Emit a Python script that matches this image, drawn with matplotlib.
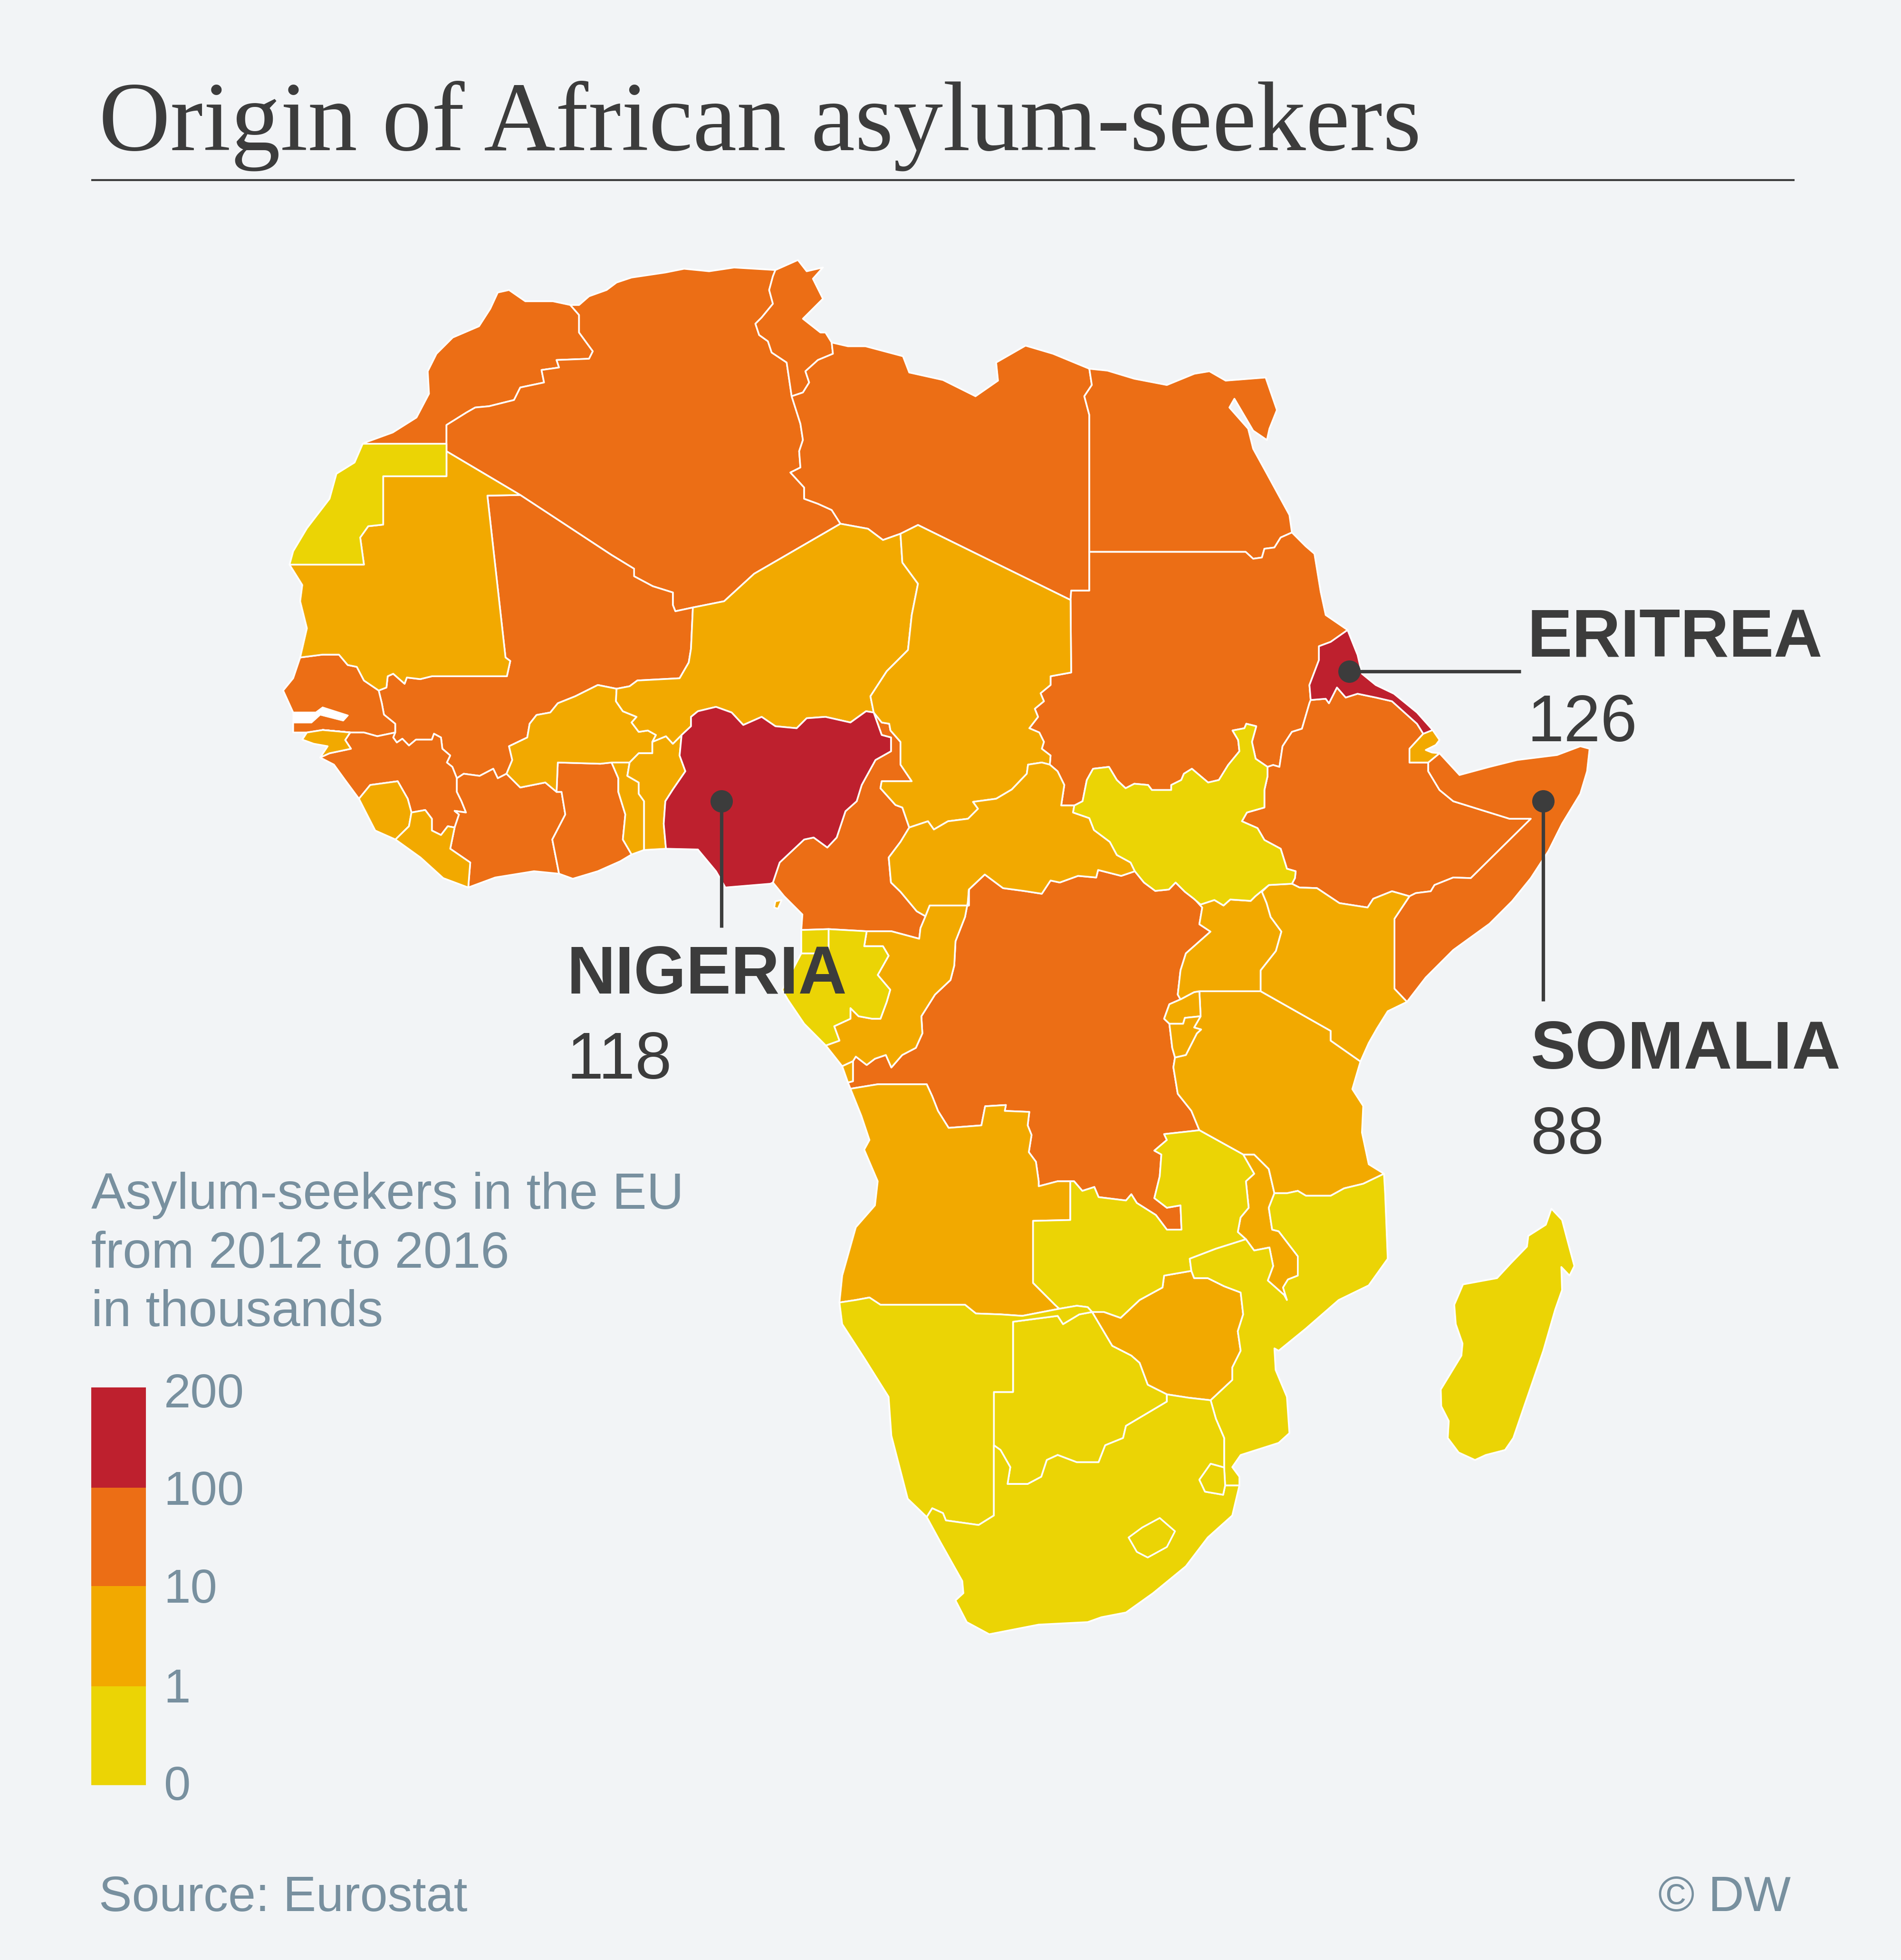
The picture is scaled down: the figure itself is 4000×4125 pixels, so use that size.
"""Origin of African asylum-seekers: choropleth with hand-read country outlines."""
import matplotlib
matplotlib.use("Agg")
import matplotlib.pyplot as plt
from matplotlib.patches import Polygon, Rectangle

BG = "#f2f4f6"
DARK = "#3c3c3c"
GREY = "#78909f"
RED, ORANGE, AMBER, YELLOW = "#be202e", "#ec6e15", "#f2a900", "#ebd405"

# Border chains (x right, y down, on a 1520 x 1568 sheet)
mor_coast = [(290,355),(292,354),(314,346),(333,334),(343,315),(342,297),(349,283),(362,270),(383,261),(392,247),(398,234),(407,232),(420,241),(442,241),(456,244)]
mor_alg = [(456,244),(463,252),(463,266),(474,281),(471,287),(445,288),(447,294),(433,296),(435,306),(416,310),(411,320),(391,325),(380,326),(373,330),(357,340),(357,355)]
mor_wsa = [(357,355),(290,355)]
alg_wsa = [(357,355),(357,361)]
wsa_coast = [(290,355),(283.5,370),(269,379),(263.5,399),(245.4,422.6),(234.4,441),(231.5,451.7)]
mau_wsa = [(231.5,451.7),(291,451.7),(288,430),(294.4,421),(306.4,419.7),(306.4,381),(357,381),(357,361)]
alg_mau = [(357,361),(416,396)]
alg_mli = [(416,396),(489,444),(507,455),(507,461),(522,469),(538,474),(538,484),(540,489),(554,486)]
alg_ner = [(554,486),(579,481),(603,459),(672,419)]
alg_lby = [(672,419),(665,408),(654,403),(643,399),(643,390),(632,378),(640,374),(639,361),(642,352),(640,339),(633,317)]
alg_tun = [(633,317),(629,290),(617,282),(614,273),(607,268),(604,259),(609,254),(618,243),(615,232),(618,221),(620,216)]
alg_coast = [(620,216),(587,214),(567,217),(547,215),(532,218),(505,222),(493,226),(485,232),(471,237),(463,244),(456,244)]
tun_coast = [(620,216),(638,208),(645,217),(658,214),(650,223),(658,239),(642,255),(656,266),(660,266),(665,274)]
tun_lby = [(665,274),(666,283),(654,288),(644,297),(647,306),(642,314),(633,317)]
lby_coast = [(665,274),(678,277),(692,277),(722,285),(727,298),(754,304),(780,317),(798,304.5),(796.5,290),(820,276.5),(842,283),(856.5,289),(871,295)]
lby_egy = [(871,295),(873,308),(867,317),(871,332),(871,441.5)]
lby_sdn = [(871,441.5),(871,472.5),(856.5,472.5),(856,480)]
lby_tcd = [(856,480),(734,420),(720,427)]
lby_ner = [(720,427),(706,432),(694,423),(672,419)]
egy_coast = [(871,295),(885.5,296.5),(907,303),(933,308),(955,299),(967,297),(980,304.5),(1012,302),(1021,328),(1015,343),(1013,352),(1002,344.5),(987,319),(983,326),(998,343),(1002,359),(1013,379),(1031,412),(1033,426)]
egy_sdn = [(1033,426),(1024,430),(1019,438),(1011,439),(1009,446),(1002,447),(996,441.5),(871,441.5)]
sdn_coast = [(1033,426),(1044,437),(1051,443),(1056,473.5),(1060,492),(1077.5,504)]
eri_sdn = [(1077.5,504),(1064,513.5),(1054.6,517),(1054.6,528),(1047,548),(1048,560)]
eri_eth = [(1048,560),(1060,559),(1062.6,562.6),(1069,550),(1076,558),(1085.5,555),(1100,558),(1113,561),(1133,579),(1138,587)]
eri_coast = [(1145.5,584),(1133,570),(1114.6,555),(1100,548),(1089,539),(1085.5,524),(1077.5,504)]
eri_dji = [(1138,587),(1145.5,584)]
dji_coast = [(1145.5,584),(1151,592),(1148,596),(1140,600),(1145,602),(1151,602.6)]
dji_som = [(1151,602.6),(1142,610)]
eth_dji = [(1142,610),(1127,610),(1127,599),(1138,587)]
eth_som = [(1142,610),(1142,617),(1151,632),(1162,641),(1207,655),(1224,655),(1176,702.5),(1162,702),(1147,708),(1144,713),(1132,714.5),(1127,717)]
som_coast = [(1151,602.6),(1167,620),(1191,613.5),(1213,608),(1245,604),(1263.6,597),(1271,599),(1269,617),(1263.6,635),(1249,659),(1238,681),(1224,702.5),(1209,721),(1191,739),(1162,760),(1140,782),(1125,801.5)]
ken_som = [(1127,717),(1115,735),(1115,791),(1125,801.5)]
eth_ken = [(1033,707),(1039,710),(1053,710.5),(1071,722.5),(1093.5,726),(1098,719),(1113,713),(1127,717)]
eth_ssd = [(1013.5,613.5),(1013.5,621),(1011,632),(1011,646),(997,650),(993,657),(1005.5,662.5),(1011,672),(1024,679),(1029,695),(1036,697),(1035.4,702.5),(1033,707)]
eth_sdn = [(1013.5,613.5),(1018,612),(1023,613.5),(1025.5,597),(1033,585.5),(1041,583),(1047,562.5),(1048,560)]
sdn_ssd = [(1013.5,613.5),(1004,607),(1001,593.5),(1004.5,581),(996.5,579),(995,582.6),(985.5,584.4),(990,592),(991,601),(982,612),(974.6,624),(966,626),(953,615),(946.6,619),(944.5,624),(936.5,628),(936.5,632),(921,632),(918,628),(907,627),(900,630.6),(893,624),(886.7,613.5),(874,615),(869,624),(865.6,641),(859,644.4)]
car_sdn = [(859,644.4),(848.5,644.4),(851,628),(845.6,617),(839.4,611.7)]
sdn_tcd = [(839.4,611.7),(840,604.4),(833,599),(834.7,593.5),(831,586),(823,582.6),(830,573.5),(827.4,567),(834.7,561),(832,554.6),(840,548),(840,541),(856.5,538),(856,480)]
car_tcd = [(839.4,611.7),(833,610),(822,611.7),(821,619),(809,631.6),(796.5,639),(778,641.5),(782,647),(774,655),(758,657),(746.7,663.6),(742,657),(727,662)]
car_ssd = [(859,644.4),(858,650),(871,654.5),(874.7,664),(887.4,673.5),(893,684),(904,690),(907.4,697)]
car_cod = [(907.4,697),(896.5,700.7),(878,696),(876.5,702),(862,700.7),(847.4,706),(840,704.4),(833,715),(818.3,712.7),(802,710.5),(787.4,699.6),(774.7,711.6)]
car_cog = [(774.7,711.6),(774.7,724.4),(743.4,724.4),(740,733)]
car_cmr = [(727,662),(720,673.5),(710.6,686),(712.4,706),(720,713.4),(733,729),(740,733)]
cmr_cog = [(740,733),(736,742.5),(735,751),(712.7,745),(693,745)]
cmr_gab = [(693,745),(662.5,743.3)]
cmr_gnq = [(662.5,743.3),(640.7,744)]
cmr_coast = [(640.7,744),(641.6,731.6),(627,717),(618,706)]
tcd_cmr = [(698.6,570),(705,578),(711,579),(712,584.4),(720,593.5),(720,611.7),(729,625),(705,625),(704,630.6),(716,644),(721.5,646),(727,662)]
ner_tcd = [(720,427),(721.5,450),(734,467),(729,492),(726,520),(709,537),(696,557),(698.6,570)]
nga_cmr = [(618,706),(623.4,690),(643,671.6),(650.6,670),(661.5,678),(669,670),(676,649),(685,641),(689,628),(700,608),(712.4,601),(712.4,590),(705,588),(698.6,570)]
ner_nga = [(698.6,570),(692.5,569),(680,578),(660,573.5),(645,574.6),(637,582.6),(620,581),(609,573.5),(594.3,580),(585,570),(572.5,565.5),(558,569),(552.5,573.5),(552.5,581),(545,588)]
ben_nga = [(545,588),(543.4,604.4),(548,617),(538,631.6),(532,641),(530.7,659),(532.5,679)]
nga_coast = [(532.5,679),(558,679.6),(572.5,697),(580,710),(616,707),(618,706)]
ben_ner = [(521.6,593.5),(532.5,589),(538,595),(545,588)]
bfa_ner = [(521.6,593.5),(524.5,588),(518,584.4),(510.7,585.5),(505,578),(509,573.5),(498,569),(492.5,561),(493,551)]
mli_ner = [(493,551),(503.4,549),(509.6,544.4),(543.4,542.6),(550.7,530),(552.5,519),(554,486)]
bfa_mli = [(405,619),(409.6,608),(407,597),(421.6,590),(423.5,579),(429,572),(440,570),(446,562.6),(460,557),(478,548),(493,551)]
bfa_civ = [(405,619),(416,630),(436,626),(445,633.5)]
bfa_gha = [(445,633.5),(446,610),(480,611),(489,610)]
bfa_tgo = [(489,610),(503.4,610)]
bfa_ben = [(503.4,610),(510.7,602.6),(521.6,602.6),(521.6,593.5)]
civ_gha = [(445,633.5),(449,633.5),(452,651.6),(441.6,671.6),(447,699)]
gha_tgo = [(489,610),(494.4,622.6),(494.4,633.5),(500,651.6),(498,671.6),(505,683.6)]
tgo_ben = [(503.4,610),(501.6,620.7),(510.7,626),(510.7,635),(515,641),(515,680)]
gha_coast = [(447,699),(458,703),(478,697),(496,689),(505,683.6)]
tgo_coast = [(505,683.6),(515,680)]
ben_coast = [(515,680),(532.5,679)]
civ_coast = [(374.4,710),(396,702),(427,697),(447,699)]
civ_lbr = [(363.5,662),(360,679),(376,690),(374.4,710)]
civ_gin = [(363.5,662),(367,651.6),(363.5,648.7),(372.6,650),(369,641),(365.3,633.5),(365.3,622.6)]
civ_mli = [(365.3,622.6),(370.8,619),(383.5,620.7),(394.4,615),(398,622.6),(405,619)]
gin_mli = [(316,586),(314.4,590),(317.3,594),(321.7,591),(327,596.4),(332.6,591.7),(345.3,591.7),(347,587),(352.6,590),(353.7,599),(360,604.4),(357.3,610),(361.7,613.5),(365.3,622.6)]
sen_mli = [(302.8,552.4),(305.3,562.6),(307,571.7),(316,579),(316,586)]
mau_sen = [(240,526),(258,523.7),(271,523.7),(278,532),(285.3,533.5),(291,544.4),(302.8,552.4)]
mau_mli = [(302.8,552.4),(309,550),(310,541),(314.4,539),(323.5,547),(325.3,542),(336,543.3),(345.3,541),(405.3,541),(408,528.8),(404.2,526),(389.7,396.5),(416,396)]
mau_coast = [(231.5,451.7),(241.7,468),(240,481),(245.4,502.6),(240,526)]
sen_coast = [(240,526),(234.4,542.6),(226.4,552.4),(234.4,570)]
gambia = [(234.4,570),(252.6,570),(258,566),(278,572.4),(274.4,576.4),(256,571.7),(249,578),(234.4,578)]
sen_coast2 = [(234.4,578),(234.4,586),(245.4,586)]
sen_gnb = [(245.4,586),(258,584)]
sen_gin = [(258,584),(280,586),(291,586),(301.7,589),(316,586)]
gnb_gin = [(280,586),(276,592),(280.6,599),(263.5,602.6),(256,606)]
gnb_coast = [(256,606),(262,597),(250.8,595),(241.7,591.7),(245.4,586)]
gin_coast = [(256,606),(267,611.7),(276.2,624.4),(287,639)]
gin_sle = [(287,639),(296,628),(318,625),(326,639),(329,650)]
gin_lbr = [(329,650),(340,648),(345.3,655),(345.3,664.4),(352.6,668),(358,661),(363.5,662)]
sle_lbr = [(329,650),(327,661),(316.2,671.6)]
sle_coast = [(316.2,671.6),(300,664.4),(292.6,650),(287,639)]
lbr_coast = [(316.2,671.6),(336.2,686),(354.4,702.5),(374.4,710)]
gab_coast = [(640.7,762.7),(625.4,791.8),(629.8,799.5),(643,819),(660.3,836.4)]
gab_gnq = [(640.7,762.7),(662.5,762.7),(662.5,743.3)]
gnq_coast = [(640.7,744),(640.7,762.7)]
cog_gab = [(660.3,836.4),(671.2,832.5),(667,821),(680,815),(680,806.5),(686.5,813),(697.4,815),(704,815),(709,801.5),(711.8,791.8),(701.8,780),(710.5,764.6),(706,757),(691,757),(693,745)]
cog_cod = [(774.7,711.6),(773.8,722),(771.6,733.6),(764,753),(763,772.4),(760,784),(747.6,795.7),(736.7,813),(737.5,826.7),(732.3,838.3),(721.4,844),(712.7,854),(708.3,844),(699.6,847),(693,852),(684.3,845.3),(682,849)]
cog_cab = [(682,849),(673.4,853)]
cog_coast = [(673.4,853),(660.3,836.4)]
cod_cab = [(682,849),(682,865),(678,866)]
cab_coast = [(678,866),(673.4,853)]
cod_coast = [(678,866),(680,871)]
ago_cod = [(680,871),(702,867.4),(741,867.4),(745.4,877),(750,888.7),(758.5,902.3),(784.7,900.3),(787.7,885),(804.3,884),(803.4,888.7),(823,889.5),(821.7,900.3),(824.8,908),(822.6,921.7),(828.3,929.4),(830.5,945),(830.5,949),(845.7,945),(855.8,945)]
ago_zmb = [(855.8,945),(855.8,976),(826,976.7),(826,1026.3),(843.5,1043.8),(847,1047)]
ago_nam = [(671.2,1042),(684.3,1040),(695.2,1038),(704,1043.8),(771.6,1043.8),(780.3,1050.8),(800,1051.5),(817.4,1052.7),(847,1047)]
ago_coast = [(680,871),(688.7,892.6),(695.2,912),(691,919.7),(701.8,945),(699.6,964.3),(684.3,981.8),(673.4,1020.5),(671.2,1042)]
nam_coast = [(671.2,1042),(673.4,1059.3),(691,1086.4),(710.5,1117.5),(712.7,1148.5),(725.8,1199),(741,1213.6)]
nam_sa = [(741,1213.6),(745.4,1206.6),(754,1210.5),(756.3,1216.3),(782.5,1220),(794.7,1212.4),(794.7,1156.2)]
nam_bwa = [(794.7,1156.2),(794.7,1113.6),(810,1113.6),(810,1057.4),(845.7,1052.7),(850,1059.3),(863,1051.5),(873.2,1049.6)]
nam_zmb = [(847,1047),(861,1044.6),(869.7,1045.7),(873.2,1049.6)]
zim_zmb = [(873.2,1049.6),(882.8,1049.6),(896,1054.3),(911.2,1040),(929.5,1030),(930.8,1020.5),(952.6,1016.7)]
zim_moz = [(952.6,1016.7),(954.8,1022.5),(965.7,1022.5),(978.8,1029),(992,1034),(994,1051.5),(989.7,1065),(992,1080.6),(985.3,1094),(985.3,1104),(968,1120.2)]
zim_sa = [(968,1120.2),(950.4,1118.2),(933,1115.5)]
bwa_zim = [(933,1115.5),(917.7,1107.8),(911.2,1090.3),(904.6,1084.5),(889.3,1076.7),(873.2,1049.6)]
bwa_sa = [(933,1115.5),(933,1121.3),(913.3,1133),(900.3,1140.7),(898,1150.4),(883.7,1156.2),(878.4,1169.8),(861,1169.8),(845.7,1164),(837,1168),(832.6,1181.4),(821.7,1187.2),(805.6,1187.2),(807.8,1173.7),(800,1160),(794.7,1156.2)]
sa_coast = [(741,1213.6),(752,1233.8),(769.4,1264.8),(770.3,1274.5),(764,1280.3),(773,1297.7),(791,1307.4),(830.5,1299.7),(869.7,1297.7),(880.6,1293.8),(900.3,1290),(922,1274.5),(948.2,1253),(965.7,1230),(985.3,1212.4),(991,1188.4)]
sa_moz = [(968,1120.2),(972.2,1135),(978.8,1150.4),(978.8,1174)]
swz_moz = [(978.8,1174),(979.6,1188.4)]
sa_moz2 = [(979.6,1188.4),(991,1188.4)]
swz_sa = [(978.8,1174),(968,1171),(959,1183.8),(963.5,1193.3),(978,1195.8),(979.6,1188.4)]
lesotho = [(902.4,1230),(913.3,1222),(927.3,1214.4),(939.5,1225),(933,1237.6),(917.7,1246),(909,1241.5)]
moz_coast = [(991,1188.4),(991,1181.4),(985.3,1173.7),(992,1164),(1022.4,1154.3),(1031,1146.5),(1029,1117.5),(1020,1096),(1019,1078.7),(1022.4,1080.6),(1044,1063),(1070.4,1040),(1094.4,1028.3),(1109.6,1007),(1107.5,954.6),(1106.6,939)]
tza_moz = [(1106.6,939),(1090,947),(1074.7,950.7),(1064,956.6),(1044.2,956.6),(1037.7,952.7),(1029,954.6),(1019,954.6)]
mwi_tza = [(1019,954.6),(1014.5,935.2),(1002.8,923.6),(994,923.6)]
mwi_zmb = [(994,923.6),(1002.8,939),(996.2,945),(998.4,966.2),(991.9,974),(989.7,985.6),(996.2,991.4)]
mwi_moz = [(996.2,991.4),(1002.8,1000.4),(1015,998),(1018,1012.8),(1013.7,1024.4),(1026.8,1036),(1029,1040),(1025.9,1030),(1029.8,1023.6),(1037.7,1020.5),(1037.7,1005),(1022.4,985),(1017.2,983.7),(1014.5,966.2),(1019,954.6)]
moz_zmb = [(996.2,991.4),(972.2,999),(951.3,1007),(952.6,1016.7)]
tza_zmb = [(994,923.6),(959,904.2)]
zmb_cod = [(959,904.2),(930.8,907.3),(933,912),(923,920.5),(928.6,923.6),(927.3,941),(923,958.5),(933,966.2),(943.9,964.3),(944.7,983.7),(933,983.7),(924.2,972),(909,962.4),(904.6,955.4),(900.3,960.4),(878.4,957.7),(875,949.6),(865.4,952.7),(858.8,945),(855.8,945)]
tza_cod = [(939.5,846),(938.2,853.8),(941.7,875),(952.6,888.7),(959,904.2)]
bdi_cod = [(939.5,846),(937.3,838.3),(935,819)]
bdi_tza = [(960,813),(954.8,822),(960.4,823.6),(957,826.7),(948.2,844),(939.5,846)]
rwa_bdi = [(960,813),(947.4,814.3),(946,819),(935,819)]
rwa_cod = [(935,819),(930.8,815),(935,803.4),(943.9,799.5)]
rwa_tza = [(959,793),(960,813)]
rwa_uga = [(943.9,799.5),(954.8,793.7),(959,793)]
uga_tza = [(1008,793),(959,793)]
uga_cod = [(943.9,799.5),(941.7,795.7),(943.9,776.3),(948.2,762.7),(967.9,745.3),(959,739.4),(961.3,726),(956.5,720.7)]
ssd_uga = [(956.5,720.7),(960,723.6),(971,720),(978.3,724.4),(983.7,719.6),(1000,720.7),(1003.7,717),(1014.6,708)]
ssd_ken = [(1014.6,708),(1033,707)]
ssd_cod = [(907.4,697),(914.7,706),(923.7,712.7),(934.6,711.6),(940,706),(947.4,713.4),(954.6,719),(956.5,720.7)]
ken_uga = [(1014.6,708),(1009,713.4),(1012.8,722.5),(1016,733.6),(1024.6,745.3),(1020.2,760.8),(1008,776.3),(1008,793)]
ken_tza = [(1008,793),(1064,824.7),(1064,832.5),(1087.8,849.2)]
ken_coast = [(1125,801.5),(1109.6,809),(1101,822.8),(1094.4,834.4),(1087.8,849.2)]
tza_coast = [(1087.8,849.2),(1081.3,871.3),(1090,884.8),(1089,906),(1094.4,931.4),(1106.6,939)]
madagascar = [(1240.5,967),(1249,976),(1253.6,993.4),(1258.8,1012.8),(1255,1020.5),(1248.4,1013.6),(1249,1032),(1243.5,1047.7),(1234,1080.6),(1218.7,1125),(1210,1150.4),(1203.4,1160),(1188,1164),(1179.4,1168),(1166.3,1162),(1157.6,1150.4),(1158.4,1136.8),(1152.4,1125),(1152,1111.6),(1168.5,1084.5),(1169.4,1074.8),(1164,1059.3),(1162.8,1043.8),(1169.8,1027.5),(1197,1022.5),(1207.8,1010.8),(1220.9,997.3),(1222,988.7),(1236,979.8)]
bioko = [(620,721),(625,720),(622,727),(619,726)]


def ring(*chains):
    # join chains into one outline, flipping each so it follows on from the last
    def d(a, b):
        return (a[0] - b[0]) ** 2 + (a[1] - b[1]) ** 2
    pts = list(chains[0])
    if len(chains) > 1:
        nxt = chains[1]
        if min(d(pts[0], nxt[0]), d(pts[0], nxt[-1])) < min(d(pts[-1], nxt[0]), d(pts[-1], nxt[-1])):
            pts.reverse()
    for c in chains[1:]:
        c = list(c)
        if d(pts[-1], c[0]) > d(pts[-1], c[-1]):
            c.reverse()
        pts += c
    return pts


morocco = ring(mor_coast, mor_alg, mor_wsa)
w_sahara = ring(mor_wsa, wsa_coast, mau_wsa, alg_wsa)
algeria = ring(alg_coast, alg_tun, alg_lby, alg_ner, alg_mli, alg_mau, alg_wsa, mor_alg)
tunisia = ring(tun_coast, tun_lby, alg_tun)
libya = ring(lby_coast, lby_egy, lby_sdn, lby_tcd, lby_ner, alg_lby, tun_lby)
egypt = ring(egy_coast, egy_sdn, lby_egy)
sudan = ring(lby_sdn, sdn_tcd, car_sdn, sdn_ssd, eth_sdn, eri_sdn, sdn_coast, egy_sdn)
south_sudan = ring(sdn_ssd, eth_ssd, ssd_ken, ssd_uga, ssd_cod, car_ssd)
eritrea = ring(eri_sdn, eri_eth, eri_dji, eri_coast)
djibouti = ring(eri_dji, dji_coast, dji_som, eth_dji)
ethiopia = ring(eri_eth, eth_dji, eth_som, eth_ken, eth_ssd, eth_sdn)
somalia = ring(dji_som, som_coast, ken_som, eth_som)
mauritania = ring(alg_mau, mau_wsa, mau_coast, mau_sen, mau_mli)
mali = ring(alg_mli, mau_mli, sen_mli, gin_mli, civ_mli, bfa_mli, mli_ner)
senegal = ring(mau_sen, sen_mli, sen_gin, gnb_gin[:1], sen_gnb, sen_coast2, gambia, sen_coast)
bissau = ring(sen_gnb, gnb_gin[:1], gnb_gin, gnb_coast)
guinea = ring(gnb_gin, gin_coast, gin_sle, gin_lbr, civ_gin, gin_mli, sen_gin[2:])
sierra_leone = ring(gin_sle, sle_lbr, sle_coast)
liberia = ring(gin_lbr, civ_lbr, lbr_coast, sle_lbr)
ivory_coast = ring(civ_gin, civ_mli, bfa_civ, civ_gha, civ_coast, civ_lbr)
burkina = ring(bfa_mli, bfa_ner, bfa_ben, bfa_tgo, bfa_gha, bfa_civ)
ghana = ring(bfa_gha, gha_tgo, gha_coast, civ_gha)
togo = ring(bfa_tgo, tgo_ben, tgo_coast, gha_tgo)
benin = ring(bfa_ben, ben_ner, ben_nga, ben_coast, tgo_ben)
niger = ring(alg_ner, lby_ner, ner_tcd, ner_nga, ben_ner, bfa_ner, mli_ner)
nigeria = ring(ner_nga, ben_nga, nga_coast, nga_cmr)
cameroon = ring(nga_cmr, tcd_cmr, car_cmr, cmr_cog, cmr_gab, cmr_gnq, cmr_coast)
chad = ring(lby_tcd, sdn_tcd, car_tcd, tcd_cmr, ner_tcd)
car = ring(car_tcd, car_sdn, car_ssd, car_cod, car_cog, car_cmr)
congo = ring(car_cog, cog_cod, cog_cab, cog_coast, cog_gab, cmr_cog)
gabon = ring(cmr_gab, cog_gab, gab_coast, gab_gnq)
eq_guinea = ring(cmr_gnq, gnq_coast, gab_gnq)
cabinda = ring(cog_cab, cod_cab, cab_coast)
drc = ring(car_cod, ssd_cod, uga_cod, rwa_cod, bdi_cod, tza_cod, zmb_cod, ago_cod, cod_coast, cod_cab, cog_cod)
angola = ring(ago_cod, ago_zmb, ago_nam, ago_coast)
zambia = ring(tza_zmb, zmb_cod, ago_zmb, nam_zmb, zim_zmb, moz_zmb, mwi_zmb)
malawi = ring(mwi_zmb, mwi_moz, mwi_tza)
mozambique = ring(tza_moz, moz_coast, sa_moz2, swz_moz, sa_moz, zim_moz, moz_zmb, mwi_moz)
zimbabwe = ring(zim_zmb, zim_moz, zim_sa, bwa_zim)
botswana = ring(nam_bwa, bwa_zim, bwa_sa)
namibia = ring(ago_nam, nam_zmb, nam_bwa, nam_sa, nam_coast)
south_africa = ring(nam_sa, bwa_sa, zim_sa, sa_moz, swz_sa, sa_moz2, sa_coast)
swaziland = ring(swz_sa, swz_moz)
tanzania = ring(uga_tza, ken_tza, tza_coast, tza_moz, mwi_tza, tza_zmb, tza_cod, bdi_tza, rwa_tza)
rwanda = ring(rwa_uga, rwa_tza, rwa_bdi, rwa_cod)
burundi = ring(rwa_bdi, bdi_tza, bdi_cod)
uganda = ring(ssd_uga, ken_uga, uga_tza, rwa_uga, uga_cod)
kenya = ring(ken_uga, ssd_ken, eth_ken, ken_som, ken_coast, ken_tza)

# classes of the legend: 0-1, 1-10, 10-100, 100-200 thousand
class_0_1 = [w_sahara, south_sudan, gabon, eq_guinea, zambia, mozambique, botswana, namibia,
             south_africa, swaziland, lesotho, madagascar]
class_1_10 = [mauritania, bissau, sierra_leone, liberia, burkina, togo, benin, niger, chad, car,
              congo, cabinda, angola, malawi, zimbabwe, tanzania, rwanda, burundi, uganda, kenya,
              djibouti, bioko]
class_10_100 = [morocco, algeria, tunisia, libya, egypt, sudan, ethiopia, somalia, mali, senegal,
                guinea, ivory_coast, ghana, cameroon, drc]
class_100_200 = [nigeria, eritrea]

legend_ticks = ["200", "100", "10", "1", "0"]
legend_colors = [RED, ORANGE, AMBER, YELLOW]

callouts = [("ERITREA", "126"), ("NIGERIA", "118"), ("SOMALIA", "88")]

fig = plt.figure(figsize=(40, 41.25), dpi=100, facecolor=BG)
ax = fig.add_axes([0, 0, 1, 1])
ax.set_xlim(0, 1520)
ax.set_ylim(1568, 0)
ax.axis("off")

for shapes, col in [(class_10_100, ORANGE), (class_1_10, AMBER), (class_0_1, YELLOW), (class_100_200, RED)]:
    for pts in shapes:
        ax.add_patch(Polygon(pts, closed=True, fc=col, ec="white", lw=2.6, joinstyle="round", zorder=2))
# Gambia is left open, with a white ground
ax.add_patch(Polygon(gambia, closed=True, fc="white", ec="white", lw=2.0, zorder=3))

# title and rule
sans = "Liberation Sans"
ax.text(79, 120, "Origin of African asylum-seekers", family="Liberation Serif", fontsize=150,
        color=DARK, va="baseline", ha="left")
ax.plot([73, 1435], [144, 144], color=DARK, lw=3.0, solid_capstyle="butt")

# callouts
ax.plot([1079, 1216], [537, 537], color=DARK, lw=5.2, solid_capstyle="butt", zorder=5)
ax.plot([577, 577], [641, 742], color=DARK, lw=5.2, solid_capstyle="butt", zorder=5)
ax.plot([1234, 1234], [641, 801], color=DARK, lw=5.2, solid_capstyle="butt", zorder=5)
ax.scatter([1079, 577, 1234], [537, 641, 641], s=1150, color=DARK, linewidths=0, zorder=6)

for (name, val), x, y in zip(callouts, [1221, 453, 1224], [525, 795, 855]):
    ax.text(x, y, name, family=sans, weight="bold", fontsize=102, color=DARK, va="baseline", zorder=7)
    ax.text(x, y + 68, val, family=sans, fontsize=100, color=DARK, va="baseline", zorder=7)

# legend
for line, y in zip(["Asylum-seekers in the EU", "from 2012 to 2016", "in thousands"], [967, 1014, 1061]):
    ax.text(73, y, line, family=sans, fontsize=78, color=GREY, va="baseline")
edges = [1110, 1190, 1269, 1349, 1428]
for i, col in enumerate(legend_colors):
    ax.add_patch(Rectangle((73, edges[i]), 43.5, edges[i + 1] - edges[i], fc=col, ec="none"))
for lab, y in zip(legend_ticks, [1126, 1204, 1282, 1362, 1440]):
    ax.text(131, y, lab, family=sans, fontsize=73, color=GREY, va="baseline")

ax.text(79, 1529, "Source: Eurostat", family=sans, fontsize=75, color=GREY, va="baseline")
ax.text(1432, 1529, "© DW", family=sans, fontsize=75, color=GREY, va="baseline", ha="right")

fig.savefig("out.png", dpi=100, facecolor=BG)
plt.close(fig)
